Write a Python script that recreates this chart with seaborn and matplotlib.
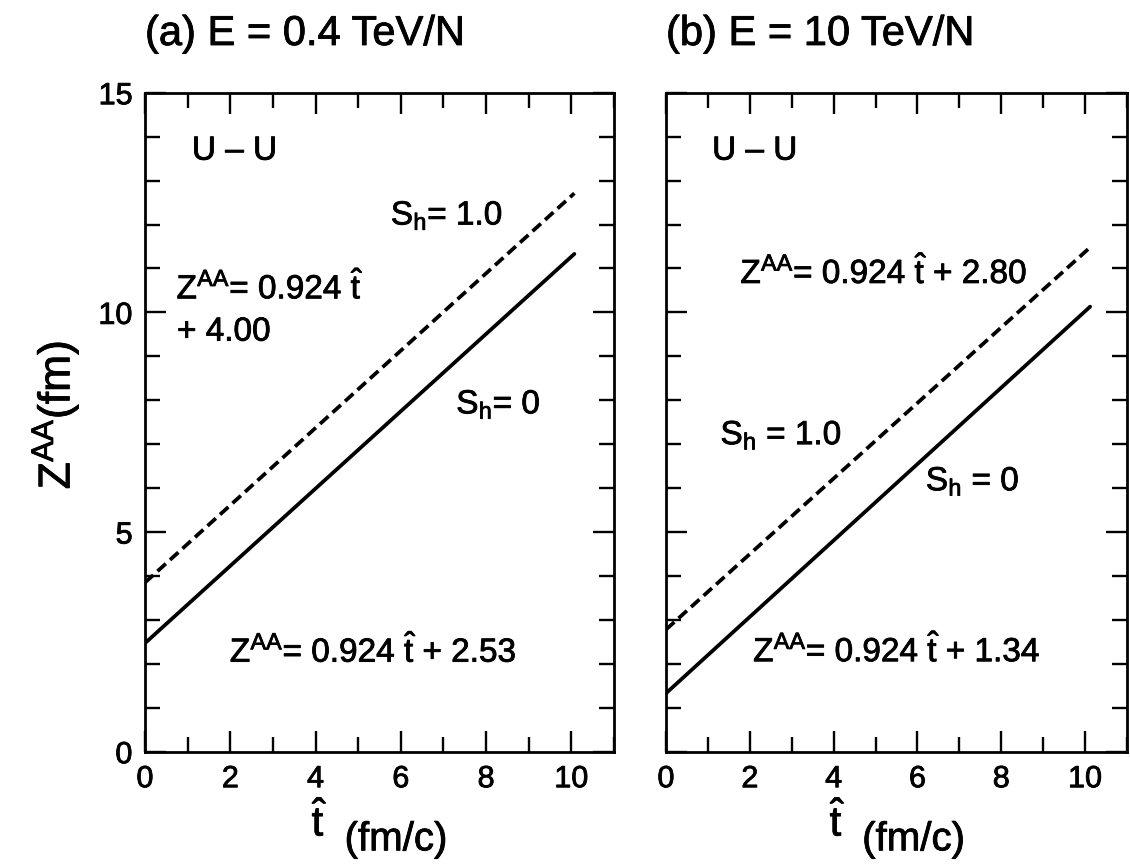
import numpy as np
import pandas as pd
import matplotlib
matplotlib.use("Agg")
import matplotlib.pyplot as plt
import matplotlib.patheffects as pe
import seaborn as sns
from matplotlib.ticker import MultipleLocator

# ---- data ----
t_a = [0.0, 10.07]
z_a_s0 = [2.47, 11.33]      # S_h = 0 (solid)
z_a_s1 = [3.85, 12.71]      # S_h = 1.0 (dashed)
t_b = [0.0, 10.12]
z_b_s0 = [1.33, 10.13]
z_b_s1 = [2.78, 11.48]

titles = ["(a) E = 0.4 TeV/N", "(b) E = 10 TeV/N"]
x_ticks = [0, 2, 4, 6, 8, 10]
y_ticks = [0, 5, 10, 15]

sns.set_style("ticks")
plt.rcParams['font.family'] = ['Liberation Sans', 'DejaVu Sans']
plt.rcParams['mathtext.fontset'] = 'custom'
plt.rcParams['mathtext.rm'] = 'Liberation Sans'
plt.rcParams['mathtext.it'] = 'Liberation Sans'
plt.rcParams['mathtext.bf'] = 'Liberation Sans:bold'
plt.rcParams['text.color'] = 'black'
plt.rcParams['xtick.color'] = 'black'
plt.rcParams['ytick.color'] = 'black'
plt.rcParams['xtick.labelcolor'] = 'black'
plt.rcParams['ytick.labelcolor'] = 'black'

heavy = [pe.withStroke(linewidth=0.6, foreground='black')]

W, H = 1130, 865
fig = plt.figure(figsize=(11.3, 8.65), dpi=100)
axA = fig.add_axes([145/W, 1-751.7/H, 469/W, 659/H])
axB = fig.add_axes([666/W, 1-751.7/H, 461/W, 659/H])

def draw(ax, t, s0, s1):
    df = pd.DataFrame({"t": t + t, "z": s0 + s1,
                       "S": ["0"]*len(t) + ["1"]*len(t)})
    sns.lineplot(data=df[df.S == "0"], x="t", y="z", ax=ax, color="black",
                 lw=2.7)
    sns.lineplot(data=df[df.S == "1"], x="t", y="z", ax=ax, color="black",
                 lw=2.7, linestyle="--")
    ax.lines[-1].set_dashes((3.0, 1.5))
    ax.set_xlim(0, 11)
    ax.set_ylim(0, 15)
    ax.set_xlabel("")
    ax.set_ylabel("")
    ax.set_xticks(x_ticks)
    ax.set_yticks(y_ticks)
    ax.xaxis.set_minor_locator(MultipleLocator(1))
    ax.yaxis.set_minor_locator(MultipleLocator(1))
    ax.tick_params(which='both', direction='in', top=True, right=True,
                   width=1.7, colors='black', labelsize=22, pad=9)
    ax.tick_params(which='major', length=15)
    ax.tick_params(which='minor', length=11)
    for sp in ax.spines.values():
        sp.set_linewidth(2.0)
        sp.set_color('black')
        sp.set_visible(True)
    for lab in ax.get_xticklabels() + ax.get_yticklabels():
        lab.set_path_effects(heavy)

draw(axA, t_a, z_a_s0, z_a_s1)
draw(axB, t_b, z_b_s0, z_b_s1)
axB.set_yticklabels([])

fs = 24
kw = dict(fontsize=fs, va='center', path_effects=heavy)
# panel (a) annotations
axA.text(1.1, 13.67, "U – U", **kw)
axA.text(8.4, 12.2, "S$_{\\rm h}$= 1.0", ha='right', **kw)
axA.text(0.74, 10.55, "Z$^{\\rm AA}$= 0.924 $\\hat{\\rm t}$", **kw)
axA.text(0.75, 9.55, "+ 4.00", **kw)
axA.text(7.3, 7.9, "S$_{\\rm h}$= 0", **kw)
axA.text(1.99, 2.28, "Z$^{\\rm AA}$= 0.924 $\\hat{\\rm t}$ + 2.53", **kw)

# panel (b) annotations
axB.text(1.1, 13.67, "U – U", **kw)
axB.text(8.63, 10.9, "Z$^{\\rm AA}$= 0.924 $\\hat{\\rm t}$ + 2.80", ha='right', **kw)
axB.text(1.3, 7.2, "S$_{\\rm h}$ = 1.0", **kw)
axB.text(6.2, 6.15, "S$_{\\rm h}$ = 0", **kw)
axB.text(2.08, 2.29, "Z$^{\\rm AA}$= 0.924 $\\hat{\\rm t}$ + 1.34", **kw)

# titles and x labels
for ax, ttl in zip([axA, axB], titles):
    ax.text(0.0, (751.7-45)/659, ttl, transform=ax.transAxes, fontsize=30,
            ha='left', va='baseline', path_effects=heavy)
    ax.annotate("$\\hat{\\rm t}$", xy=(4.1, 0), xycoords=('data', 'axes fraction'),
                xytext=(0, -60.5), textcoords='offset points',
                fontsize=30, ha='center', va='baseline', path_effects=heavy)
    ax.annotate("(fm/c)", xy=(4.68, 0), xycoords=('data', 'axes fraction'),
                xytext=(0, -71), textcoords='offset points',
                fontsize=29, ha='left', va='baseline', path_effects=heavy)

fig.text(55/W, 1-415/H, "Z$^{\\rm AA}$(fm)", rotation=90, fontsize=32,
         ha='center', va='center', path_effects=heavy)

fig.savefig("out.png", dpi=100, facecolor='white')
